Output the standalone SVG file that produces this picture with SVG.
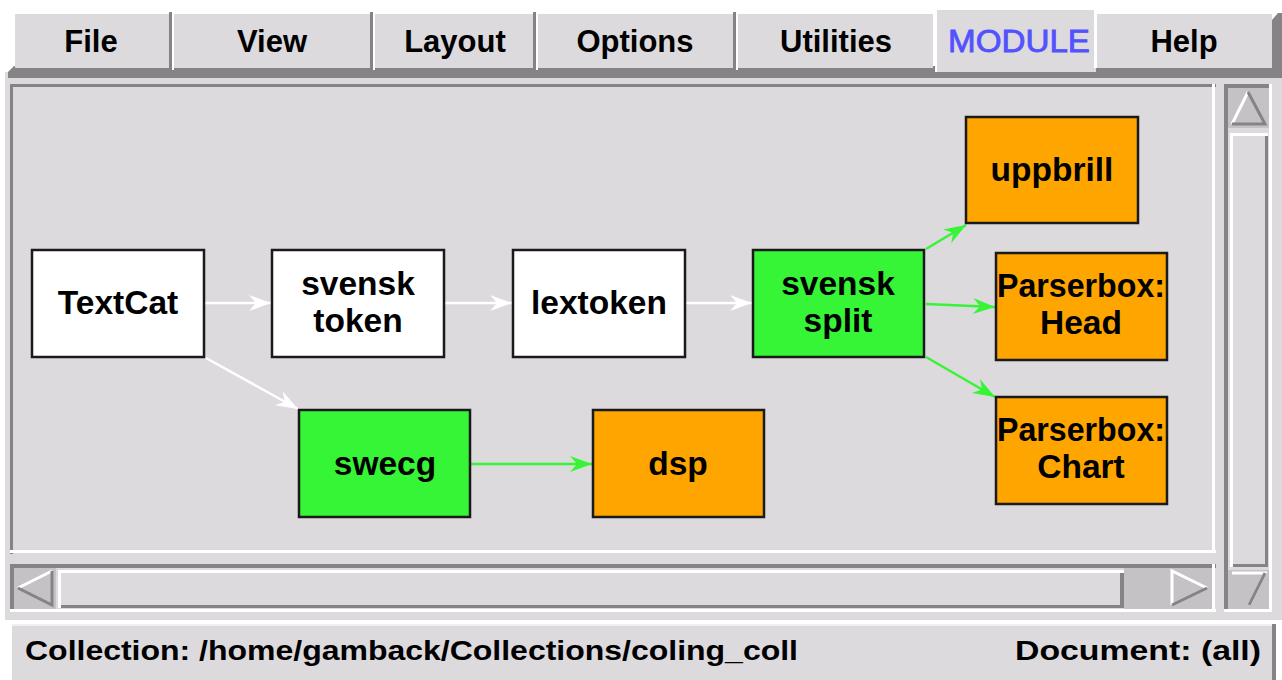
<svg xmlns="http://www.w3.org/2000/svg" width="1282" height="680" viewBox="0 0 1282 680">
<style>
.bg{fill:#dcdadc}
.dk{fill:#858385}
.wh{fill:#ffffff}
.tab{fill:#dcdadc}
.mt{font-family:"Liberation Sans",Arial,sans-serif;font-weight:bold;font-size:31px;fill:#000;text-anchor:middle}
.node rect{stroke:#1a1a1a;stroke-width:2.5}
.node text{font-family:"Liberation Sans",Arial,sans-serif;font-weight:bold;font-size:33.5px;fill:#000;text-anchor:middle}
.w{fill:#ffffff}.g{fill:#36f436}.o{fill:#ffa500}
.ew{stroke:#ffffff;stroke-width:2.5;fill:none;marker-end:url(#aw)}
.eg{stroke:#36f436;stroke-width:2.5;fill:none;marker-end:url(#ag)}
.st{font-family:"Liberation Sans",Arial,sans-serif;font-weight:bold;font-size:28px;fill:#000}
.arr{fill:#c4c2c4}
.lw{stroke:#ffffff;stroke-width:3;fill:none}
.ld{stroke:#858385;stroke-width:3;fill:none}
</style>
<defs>
<marker id="aw" markerUnits="userSpaceOnUse" markerWidth="30" markerHeight="22" viewBox="-24 -11 26 22" refX="0" refY="0" orient="auto"><path d="M0,0 L-22,-8 L-15,0 L-22,8 Z" fill="#ffffff"/></marker>
<marker id="ag" markerUnits="userSpaceOnUse" markerWidth="30" markerHeight="22" viewBox="-24 -11 26 22" refX="0" refY="0" orient="auto"><path d="M0,0 L-22,-8 L-15,0 L-22,8 Z" fill="#36f436"/></marker>
</defs>
<rect x="0" y="0" width="1282" height="680" fill="#ffffff"/>
<rect x="5" y="72" width="1277" height="548" class="bg"/>
<path d="M8,78 L8,72 L14,66 L1282,66 L1282,78 Z" class="dk"/>
<g id="menu">
<rect x="15" y="14" width="154" height="54" class="tab"/><rect x="169" y="12" width="3" height="58" class="dk"/><rect x="172" y="14" width="2" height="56" class="wh"/>
<rect x="174" y="14" width="196" height="54" class="tab"/><rect x="370" y="12" width="3" height="58" class="dk"/><rect x="373" y="14" width="2" height="56" class="wh"/>
<rect x="375" y="14" width="158" height="54" class="tab"/><rect x="533" y="12" width="3" height="58" class="dk"/><rect x="536" y="14" width="2" height="56" class="wh"/>
<rect x="538" y="14" width="195" height="54" class="tab"/><rect x="733" y="12" width="3" height="58" class="dk"/><rect x="736" y="14" width="2" height="56" class="wh"/>
<rect x="738" y="14" width="195" height="54" class="tab"/>
<rect x="935" y="10" width="161" height="62" class="tab"/><rect x="935" y="10" width="2" height="62" class="wh"/><rect x="1094" y="10" width="3" height="58" class="wh"/>
<rect x="1097" y="14" width="175" height="54" class="tab"/><path d="M1272,66 L1272,20 L1278,13 L1282,13 L1282,66 Z" class="dk"/>
<text class="mt" x="91" y="52">File</text>
<text class="mt" x="272" y="52">View</text>
<text class="mt" x="455" y="52">Layout</text>
<text class="mt" x="635" y="52">Options</text>
<text class="mt" x="836" y="52">Utilities</text>
<text class="mt" x="1019" y="52" style="font-weight:normal;fill:#5252ff;stroke:#5252ff;stroke-width:0.8" textLength="142" lengthAdjust="spacingAndGlyphs">MODULE</text>
<text class="mt" x="1184" y="52">Help</text>
</g>
<rect x="10" y="84" width="1206" height="3" class="dk"/>
<rect x="10" y="84" width="3" height="470" class="dk"/>
<rect x="10" y="550" width="1206" height="3" class="wh"/>
<rect x="1212" y="84" width="3" height="469" class="wh"/>
<g id="vscroll">
<rect x="1224" y="84" width="4" height="528" class="dk"/>
<rect x="1224" y="84" width="48" height="4" class="dk"/>
<rect x="1224" y="609" width="48" height="3" class="wh"/>
<rect x="1269" y="84" width="3" height="528" class="wh"/>
<rect x="1228" y="88" width="41" height="40" class="arr"/>
<path d="M1248,92 L1232,124 L1265,124 Z" class="arr"/>
<path d="M1248,92 L1232,124" class="lw"/><path d="M1248,92 L1265,124 L1232,124" class="ld"/>
<rect x="1230" y="133" width="38" height="434" class="bg"/>
<rect x="1230" y="133" width="3" height="434" class="wh"/><rect x="1230" y="133" width="38" height="3" class="wh"/>
<rect x="1265" y="136" width="3" height="431" class="dk"/><rect x="1233" y="564" width="35" height="3" class="dk"/>
<rect x="1228" y="570" width="41" height="39" class="arr"/>
<path d="M1232,573 L1265,573 L1249,605" class="lw"/><path d="M1265,573 L1249,605" class="ld"/>
</g>
<g id="hscroll">
<rect x="10" y="564" width="1206" height="4" class="dk"/>
<rect x="10" y="564" width="4" height="48" class="dk"/>
<rect x="10" y="609" width="1206" height="3" class="wh"/>
<rect x="1212" y="564" width="3" height="48" class="wh"/>
<rect x="14" y="568" width="42" height="41" class="arr"/>
<path d="M52,571 L18,588" class="lw"/><path d="M18,588 L52,605 L52,571" class="ld"/>
<rect x="58" y="570" width="1066" height="38" class="bg"/>
<rect x="58" y="570" width="3" height="38" class="wh"/><rect x="58" y="570" width="1066" height="3" class="wh"/>
<rect x="1120" y="573" width="4" height="35" class="dk"/><rect x="61" y="605" width="1063" height="3" class="dk"/>
<rect x="1124" y="568" width="88" height="41" class="arr"/>
<path d="M1172,605 L1172,571 L1207,588" class="lw"/><path d="M1207,588 L1172,605" class="ld"/>
</g>
<g id="status">
<rect x="12" y="624" width="1264" height="56" class="bg"/>
<rect x="12" y="624" width="1264" height="2" fill="#f0f0f0"/>
<rect x="1272" y="624" width="4" height="56" class="dk"/>
<text class="st" x="25" y="660" textLength="773" lengthAdjust="spacingAndGlyphs">Collection: /home/gamback/Collections/coling_coll</text>
<text class="st" x="1015" y="660" textLength="246" lengthAdjust="spacingAndGlyphs">Document: (all)</text>
</g>
<g id="connectors">
<line class="ew" x1="205" y1="303" x2="271" y2="303"/>
<line class="ew" x1="445" y1="303" x2="512" y2="303"/>
<line class="ew" x1="686" y1="303" x2="752" y2="303"/>
<line class="ew" x1="206" y1="358" x2="298" y2="409"/>
<line class="eg" x1="471" y1="464" x2="592" y2="464"/>
<line class="eg" x1="926" y1="249" x2="966" y2="225"/>
<line class="eg" x1="926" y1="304" x2="995" y2="307"/>
<line class="eg" x1="926" y1="357" x2="995" y2="397"/>
</g>
<g id="n-textcat" class="node"><rect x="32" y="250" width="172" height="107" class="w"/><text x="118" y="314">TextCat</text></g>
<g id="n-svensktoken" class="node"><rect x="272" y="250" width="172" height="107" class="w"/><text x="358" y="295">svensk</text><text x="358" y="332">token</text></g>
<g id="n-lextoken" class="node"><rect x="513" y="250" width="172" height="107" class="w"/><text x="599" y="314">lextoken</text></g>
<g id="n-svensksplit" class="node"><rect x="753" y="250" width="171" height="107" class="g"/><text x="838" y="295">svensk</text><text x="838" y="332">split</text></g>
<g id="n-uppbrill" class="node"><rect x="966" y="117" width="172" height="106" class="o"/><text x="1052" y="181">uppbrill</text></g>
<g id="n-head" class="node"><rect x="996" y="253" width="171" height="107" class="o"/><text x="1081" y="297" textLength="168" lengthAdjust="spacingAndGlyphs">Parserbox:</text><text x="1081" y="334">Head</text></g>
<g id="n-chart" class="node"><rect x="996" y="397" width="171" height="107" class="o"/><text x="1081" y="441" textLength="168" lengthAdjust="spacingAndGlyphs">Parserbox:</text><text x="1081" y="478">Chart</text></g>
<g id="n-swecg" class="node"><rect x="299" y="410" width="171" height="107" class="g"/><text x="385" y="475">swecg</text></g>
<g id="n-dsp" class="node"><rect x="593" y="410" width="171" height="107" class="o"/><text x="678" y="475">dsp</text></g>
</svg>
